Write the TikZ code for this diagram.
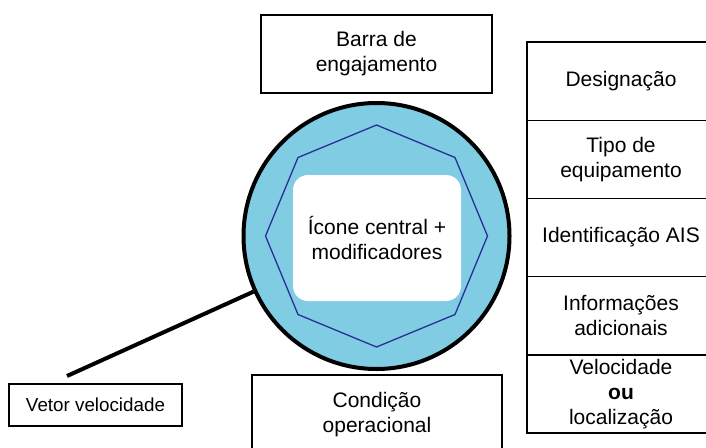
\documentclass[tikz,border=0pt]{standalone}
\usepackage{fontspec}
\setmainfont{Liberation Sans}
\usetikzlibrary{shapes.geometric}
\definecolor{ringblue}{HTML}{7FCCE3}
\definecolor{octblue}{HTML}{2B2F94}
\begin{document}
\begin{tikzpicture}[x=1pt,y=-1pt,
  box/.style={draw=black, line width=1.4pt, fill=white, align=center, inner sep=0pt, outer sep=0pt,
    font=\fontsize{21}{25}\selectfont},
  col/.style={box, minimum width=188pt, minimum height=78.2pt, anchor=north},
  vec/.style={draw=black, line width=4pt}]
\useasboundingbox (0,0) rectangle (706,447);
\clip (0,0) rectangle (706,447);
\fill[white] (0,0) rectangle (706,447);
% central symbol
\node[circle, draw=black, line width=4pt, fill=ringblue, minimum size=266pt, inner sep=0pt] (c) at (376.5,236) {};
\node[regular polygon, regular polygon sides=8, shape border rotate=22.5, draw=octblue, line width=1.3pt,
  minimum size=222pt, inner sep=0pt] (oct) at (376.5,236) {};
\node[fill=white, rounded corners=15pt, minimum width=168pt, minimum height=126pt, align=center,
  font=\fontsize{21}{25}\selectfont] (icon) at (377,238) {Ícone central +\\modificadores};
% top and bottom boxes
\node[box, minimum width=231pt, minimum height=78pt] (barra) at (376.5,54) {Barra de\\engajamento};
\node[box, minimum width=250pt, minimum height=80pt] (cond) at (377,415) {Condição\\operacional};
\node[box, minimum width=173pt, minimum height=42pt, font=\fontsize{18.8}{22}\selectfont] (vv) at (95.5,405) {Vetor velocidade};
% velocity vector
\coordinate (vvend) at (67,376);
\draw[vec] (vvend) -- (c);
% right column
\node[col] (d1) at (621,42) {Designação};
\node[col] (d2) at (d1.south) {Tipo de\\equipamento};
\node[col] (d3) at (d2.south) {Identificação AIS};
\node[col] (d4) at (d3.south) {Informações\\adicionais};
\node[col] (d5) at (d4.south) {Velocidade\\\textbf{ou}\\localização};
\end{tikzpicture}
\end{document}
